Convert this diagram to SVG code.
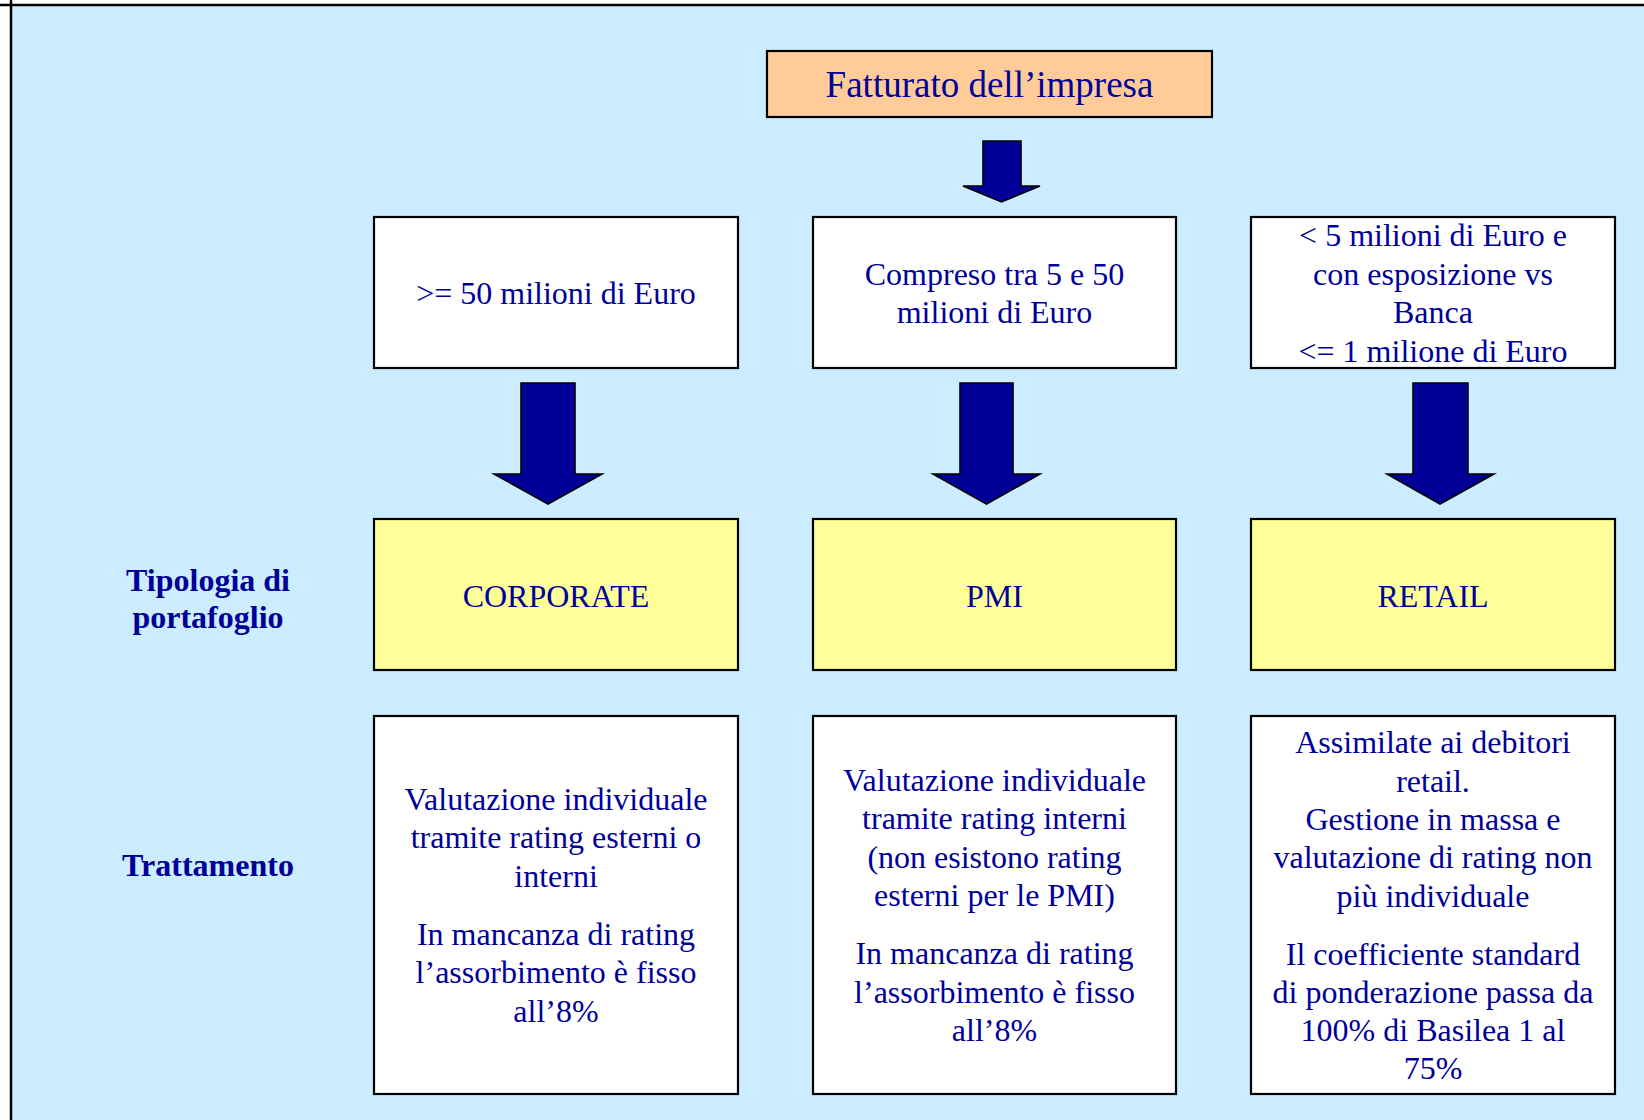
<svg xmlns="http://www.w3.org/2000/svg" width="1644" height="1120" viewBox="0 0 1644 1120">
<style>
.t{font-family:"Liberation Serif","Times New Roman",serif;font-size:32px;fill:#000099;text-anchor:middle}
.big{font-size:37px}
.lbl{font-family:"Liberation Serif","Times New Roman",serif;font-size:32px;font-weight:bold;fill:#000099;text-anchor:middle}
.box{stroke:#000;stroke-width:2.2}
.w{fill:#fff}
.y{fill:#FFFF99}
.o{fill:#FFCC99}
.arr{fill:#000099;stroke:#000;stroke-width:1.6;stroke-linejoin:miter}
</style>
<rect x="0" y="0" width="1644" height="1120" fill="#fff"/>
<rect x="11" y="5" width="1633" height="1115" fill="#CCECFF"/>
<line x1="0" y1="5" x2="1644" y2="5" stroke="#000" stroke-width="2.5"/>
<line x1="11" y1="0" x2="11" y2="1120" stroke="#000" stroke-width="2.5"/>

<g id="label-tipologia"><text class="lbl" x="208" y="591">Tipologia di</text><text class="lbl" x="208" y="628">portafoglio</text></g>
<g id="label-trattamento"><text class="lbl" x="208" y="876">Trattamento</text></g>

<g id="fatturato"><rect class="box o" x="767" y="51" width="445" height="66"/><text class="t big" x="989.5" y="97">Fatturato dell’impresa</text></g>

<g id="soglia-corporate"><rect class="box w" x="374" y="217" width="364" height="151"/><text class="t" x="556" y="304">&gt;= 50 milioni di Euro</text></g>
<g id="soglia-pmi"><rect class="box w" x="813" y="217" width="363" height="151"/><text class="t" x="994.5" y="285">Compreso tra 5 e 50</text><text class="t" x="994.5" y="323">milioni di Euro</text></g>
<g id="soglia-retail"><rect class="box w" x="1251" y="217" width="364" height="151"/><text class="t" x="1433" y="246">&lt; 5 milioni di Euro e</text><text class="t" x="1433" y="284.5">con esposizione vs</text><text class="t" x="1433" y="323">Banca</text><text class="t" x="1433" y="361.5">&lt;= 1 milione di Euro</text></g>

<g id="corporate"><rect class="box y" x="374" y="519" width="364" height="151"/><text class="t" x="556" y="607">CORPORATE</text></g>
<g id="pmi"><rect class="box y" x="813" y="519" width="363" height="151"/><text class="t" x="994.5" y="607">PMI</text></g>
<g id="retail"><rect class="box y" x="1251" y="519" width="364" height="151"/><text class="t" x="1433" y="607">RETAIL</text></g>

<g id="tratt-corporate"><rect class="box w" x="374" y="716" width="364" height="378"/>
<text class="t" x="556" y="810">Valutazione individuale</text>
<text class="t" x="556" y="848">tramite rating esterni o</text>
<text class="t" x="556" y="887">interni</text>
<text class="t" x="556" y="945">In mancanza di rating</text>
<text class="t" x="556" y="983">l’assorbimento è fisso</text>
<text class="t" x="556" y="1022">all’8%</text></g>

<g id="tratt-pmi"><rect class="box w" x="813" y="716" width="363" height="378"/>
<text class="t" x="994.5" y="791">Valutazione individuale</text>
<text class="t" x="994.5" y="829">tramite rating interni</text>
<text class="t" x="994.5" y="868">(non esistono rating</text>
<text class="t" x="994.5" y="906">esterni per le PMI)</text>
<text class="t" x="994.5" y="964">In mancanza di rating</text>
<text class="t" x="994.5" y="1003">l’assorbimento è fisso</text>
<text class="t" x="994.5" y="1041">all’8%</text></g>

<g id="tratt-retail"><rect class="box w" x="1251" y="716" width="364" height="378"/>
<text class="t" x="1433" y="753">Assimilate ai debitori</text>
<text class="t" x="1433" y="792">retail.</text>
<text class="t" x="1433" y="830">Gestione in massa e</text>
<text class="t" x="1433" y="868">valutazione di rating non</text>
<text class="t" x="1433" y="907">più individuale</text>
<text class="t" x="1433" y="965">Il coefficiente standard</text>
<text class="t" x="1433" y="1003">di ponderazione passa da</text>
<text class="t" x="1433" y="1041">100% di Basilea 1 al</text>
<text class="t" x="1433" y="1079">75%</text></g>

<g id="connectors">
<polygon class="arr" points="983,141 1021,141 1021,186 1040,186 1001.5,202 963,186 983,186"/>
<polygon class="arr" points="521,383 575,383 575,474 602,474 548,504 494,474 521,474"/>
<polygon class="arr" points="960,383 1013,383 1013,474 1040,474 986.5,504 933,474 960,474"/>
<polygon class="arr" points="1413,383 1468,383 1468,474 1494,474 1440,504 1387,474 1413,474"/>
</g>
</svg>
